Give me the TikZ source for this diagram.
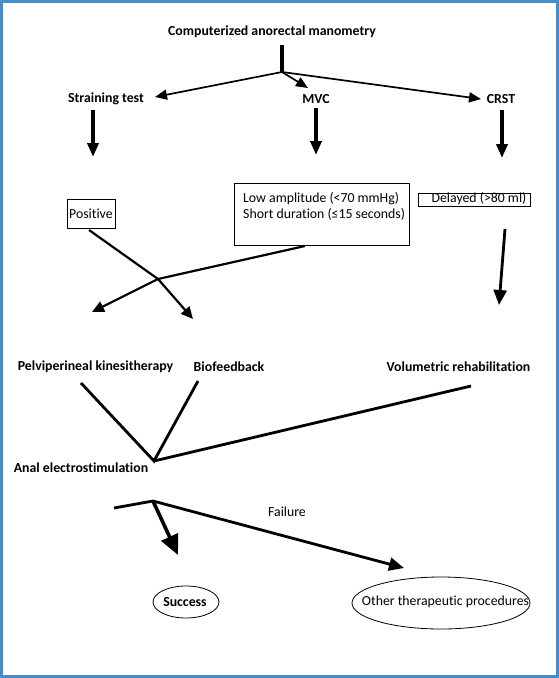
\documentclass[tikz,border=0pt]{standalone}
\usepackage{fontspec}
\setmainfont{Carlito}[Ligatures=NoCommon]
\usetikzlibrary{arrows.meta,shapes.geometric}
\definecolor{frameblue}{RGB}{74,140,200}
\begin{document}
\begin{tikzpicture}[x=1pt,y=-1pt,
  lbl/.style={font=\bfseries\fontsize{13.8}{16}\selectfont, inner sep=0pt},
  txt/.style={font=\fontsize{13.8}{16.5}\selectfont, inner sep=0pt},
  box/.style={draw, line width=0.9pt, inner sep=0pt},
  thinarrow/.style={line width=1.7pt, -{Triangle[length=12pt,width=10pt]}},
  downarrow/.style={line width=4.3pt, -{Triangle[length=14pt,width=11pt]}},
  midarrow/.style={line width=2.2pt, -{Triangle[length=12pt,width=11pt]}},
  longarrow/.style={line width=2.8pt, -{Triangle[length=15pt,width=13pt]}},
  bigarrow/.style={line width=3.6pt, -{Triangle[length=20pt,width=18pt]}},
  bar/.style={line width=2.8pt},
]
\useasboundingbox (0,0) rectangle (559,678);
\draw[frameblue, line width=3pt] (1.5,1.5) rectangle (557.5,676.5);

% texts
\node[lbl] (title) at (272,32) {Computerized anorectal manometry};
\node[lbl] (strain) at (106,99) {Straining test};
\node[lbl] (mvc) at (316,99) {MVC};
\node[lbl] (crst) at (501,99) {CRST};

\node[box, minimum width=48pt, minimum height=29pt] (posbox) at (91,213.5) {};
\node[txt, anchor=west] (pos) at (69,214) {Positive};

\node[box, minimum width=175pt, minimum height=62pt] (mvcbox) at (321.5,214) {};
\node[txt, anchor=north west, align=left] (mvctxt) at (243,192) {Low amplitude (<70 mmHg)\\Short duration (≤15 seconds)};

\node[box, minimum width=112pt, minimum height=13pt] (delbox) at (474,199.5) {};
\node[txt] (del) at (479,198.5) {Delayed (>80 ml)};

\node[lbl] (pelvi) at (95.5,367) {Pelviperineal kinesitherapy};
\node[lbl] (biof) at (229,367) {Biofeedback};
\node[lbl] (volu) at (458.5,367) {Volumetric rehabilitation};
\node[lbl] (anal) at (81,468) {Anal electrostimulation};
\node[txt] (fail) at (287,512) {Failure};

\node[lbl, draw, ellipse, line width=0.8pt, minimum width=66pt, minimum height=32pt, inner sep=0pt] (succ) at (186,602) {};
\node[lbl] (succtxt) at (185,602) {Success};
\node[txt, draw, ellipse, line width=0.8pt, minimum width=178pt, minimum height=52pt] (other) at (441,603) {};
\node[txt] (othertxt) at (445.5,602) {Other therapeutic procedures};

% connector points
\coordinate (j0) at (282,45);
\coordinate (j1) at (282,72);
\coordinate (tS) at (155,97);
\coordinate (tM) at (308,88);
\coordinate (tC) at (481,99);
\coordinate (dS0) at (93,110);  \coordinate (dS1) at (93,157);
\coordinate (dM0) at (316,108); \coordinate (dM1) at (316,155);
\coordinate (dC0) at (502,110); \coordinate (dC1) at (502,158);
\coordinate (pS) at (89,230);
\coordinate (mS) at (305,246);
\coordinate (cx) at (158,279);
\coordinate (toBio) at (193,319);
\coordinate (toPel) at (92,312);
\coordinate (cS) at (505,229);
\coordinate (toVol) at (499,305);
\coordinate (lP) at (81,383);
\coordinate (lB) at (198,381);
\coordinate (lV) at (471,386);
\coordinate (jA) at (154,461);
\coordinate (bL) at (114,508);
\coordinate (jB) at (153,501);
\coordinate (toSucc) at (178,555);
\coordinate (toOther) at (404,568);

% connectors
\draw[bar, line width=4pt] (j0) -- (j1);
\draw[thinarrow] (j1) -- (tS);
\draw[thinarrow] (j1) -- (tM);
\draw[thinarrow] (j1) -- (tC);
\draw[downarrow] (dS0) -- (dS1);
\draw[downarrow] (dM0) -- (dM1);
\draw[downarrow] (dC0) -- (dC1);
\draw[midarrow] (pS) -- (cx) -- (toBio);
\draw[midarrow] (mS) -- (cx) -- (toPel);
\draw[longarrow] (cS) -- (toVol);
\draw[bar, line join=miter] (lP) -- (jA) -- (lB);
\draw[bar] (jA) -- (lV);
\draw[bar] (bL) -- (jB);
\draw[bigarrow] (jB) -- (toSucc);
\draw[longarrow] (jB) -- (toOther);
\end{tikzpicture}
\end{document}
